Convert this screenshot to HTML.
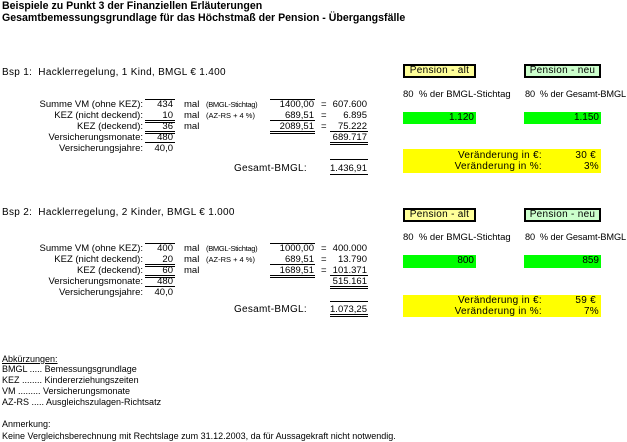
<!DOCTYPE html>
<html><head><meta charset="utf-8"><style>
body{margin:0;width:627px;height:442px;background:#fff;position:relative;overflow:hidden;font-family:"Liberation Sans",Arial,sans-serif;font-size:9.5px;color:#000}
.t{position:absolute;white-space:nowrap;line-height:11px;height:11px}
.r{text-align:right}
.b{font-weight:bold;font-size:10.6px}
.f{font-size:9px}
.ln{position:absolute;height:0;border-top:1px solid #000}
.dl{position:absolute;height:1px;border-top:1px solid #000;border-bottom:1px solid #000}
.box{position:absolute;border:2px solid #000;text-align:center;line-height:10px;height:10px;box-sizing:content-box;font-size:10px;letter-spacing:0.3px}
.g{position:absolute;background:#00ff00;text-align:right;line-height:12px;padding-right:2px;box-sizing:border-box;font-size:10px}
.y{position:absolute;background:#ffff00}
.bs{font-size:10px;letter-spacing:0.3px}
.yt{font-size:10px;letter-spacing:0.3px}
.gs{font-size:9.2px;letter-spacing:-0.1px}
</style></head><body>
<div class="t b" style="left:2px;top:1px">Beispiele zu Punkt 3 der Finanziellen Erläuterungen</div>
<div class="t b" style="left:2px;top:13px">Gesamtbemessungsgrundlage für das Höchstmaß der Pension - Übergangsfälle</div>

<div class="t bs" style="left:2px;top:67px">Bsp 1:&nbsp; Hacklerregelung, 1 Kind, BMGL € 1.400</div>
<div class="t r" style="left:0;width:143px;top:99px">Summe VM (ohne KEZ):</div>
<div class="t r" style="left:0;width:143px;top:110px">KEZ (nicht deckend):</div>
<div class="t r" style="left:0;width:143px;top:121px">KEZ (deckend):</div>
<div class="t r" style="left:0;width:143px;top:132px">Versicherungsmonate:</div>
<div class="t r" style="left:0;width:143px;top:143px">Versicherungsjahre:</div>
<div class="t r" style="left:145px;width:28px;top:99px">434</div>
<div class="t r" style="left:145px;width:28px;top:110px">10</div>
<div class="t r" style="left:145px;width:28px;top:121px">36</div>
<div class="t r" style="left:145px;width:28px;top:132px">480</div>
<div class="t r" style="left:145px;width:28px;top:143px">40,0</div>
<div class="ln" style="left:145px;width:30px;top:99px"></div>
<div class="dl" style="left:145px;width:30px;top:120px"></div>
<div class="dl" style="left:145px;width:30px;top:131px"></div>
<div class="ln" style="left:145px;width:30px;top:142px"></div>
<div class="t" style="left:184px;top:99px">mal</div>
<div class="t" style="left:184px;top:110px">mal</div>
<div class="t" style="left:184px;top:121px">mal</div>
<div class="t" style="left:206px;top:99px;font-size:7.5px;letter-spacing:-0.3px">(BMGL-Stichtag)</div>
<div class="t" style="left:206px;top:110px;font-size:7.5px">(AZ-RS + 4 %)</div>
<div class="t r" style="left:270px;width:44px;top:99px">1400,00</div>
<div class="t r" style="left:270px;width:44px;top:110px">689,51</div>
<div class="t r" style="left:270px;width:44px;top:121px">2089,51</div>
<div class="ln" style="left:270px;width:45px;top:99px"></div>
<div class="ln" style="left:270px;width:45px;top:120px"></div>
<div class="dl" style="left:270px;width:45px;top:131px"></div>
<div class="t" style="left:321px;top:99px">=</div>
<div class="t" style="left:321px;top:110px">=</div>
<div class="t" style="left:321px;top:121px">=</div>
<div class="t r" style="left:330px;width:37px;top:99px">607.600</div>
<div class="t r" style="left:330px;width:37px;top:110px">6.895</div>
<div class="t r" style="left:330px;width:37px;top:121px">75.222</div>
<div class="t r" style="left:330px;width:37px;top:132px">689.717</div>
<div class="ln" style="left:330px;width:38px;top:131px"></div>
<div class="dl" style="left:330px;width:38px;top:142px"></div>
<div class="t r yt" style="left:200px;width:107px;top:163px">Gesamt-BMGL:</div>
<div class="t r" style="left:330px;width:37px;top:163px">1.436,91</div>
<div class="ln" style="left:330px;width:38px;top:159px"></div>
<div class="ln" style="left:330px;width:38px;top:174px"></div>

<div class="box" style="left:403px;top:64px;width:69px;background:#ffff99">Pension - alt</div>
<div class="box" style="left:524px;top:64px;width:73px;background:#ccffcc">Pension - neu</div>
<div class="t" style="left:403px;top:89px">80&nbsp; % der BMGL-Stichtag</div>
<div class="t gs" style="left:525px;top:89px">80&nbsp; % der Gesamt-BMGL</div>
<div class="g" style="left:403px;top:112px;width:73px;height:12px">1.120</div>
<div class="g" style="left:524px;top:112px;width:77px;height:12px">1.150</div>
<div class="y" style="left:403px;top:149px;width:198px;height:24px"></div>
<div class="t r yt" style="left:403px;width:139px;top:150px">Veränderung in €:</div>
<div class="t r yt" style="left:403px;width:139px;top:161px">Veränderung in %:</div>
<div class="t r yt" style="left:540px;width:56px;top:150px">30 €</div>
<div class="t r yt" style="left:540px;width:59px;top:161px">3%</div>

<div class="t bs" style="left:2px;top:207px">Bsp 2:&nbsp; Hacklerregelung, 2 Kinder, BMGL € 1.000</div>
<div class="t r" style="left:0;width:143px;top:243px">Summe VM (ohne KEZ):</div>
<div class="t r" style="left:0;width:143px;top:254px">KEZ (nicht deckend):</div>
<div class="t r" style="left:0;width:143px;top:265px">KEZ (deckend):</div>
<div class="t r" style="left:0;width:143px;top:276px">Versicherungsmonate:</div>
<div class="t r" style="left:0;width:143px;top:287px">Versicherungsjahre:</div>
<div class="t r" style="left:145px;width:28px;top:243px">400</div>
<div class="t r" style="left:145px;width:28px;top:254px">20</div>
<div class="t r" style="left:145px;width:28px;top:265px">60</div>
<div class="t r" style="left:145px;width:28px;top:276px">480</div>
<div class="t r" style="left:145px;width:28px;top:287px">40,0</div>
<div class="ln" style="left:145px;width:30px;top:243px"></div>
<div class="dl" style="left:145px;width:30px;top:264px"></div>
<div class="dl" style="left:145px;width:30px;top:275px"></div>
<div class="ln" style="left:145px;width:30px;top:286px"></div>
<div class="t" style="left:184px;top:243px">mal</div>
<div class="t" style="left:184px;top:254px">mal</div>
<div class="t" style="left:184px;top:265px">mal</div>
<div class="t" style="left:206px;top:243px;font-size:7.5px;letter-spacing:-0.3px">(BMGL-Stichtag)</div>
<div class="t" style="left:206px;top:254px;font-size:7.5px">(AZ-RS + 4 %)</div>
<div class="t r" style="left:270px;width:44px;top:243px">1000,00</div>
<div class="t r" style="left:270px;width:44px;top:254px">689,51</div>
<div class="t r" style="left:270px;width:44px;top:265px">1689,51</div>
<div class="ln" style="left:270px;width:45px;top:243px"></div>
<div class="ln" style="left:270px;width:45px;top:264px"></div>
<div class="dl" style="left:270px;width:45px;top:275px"></div>
<div class="t" style="left:321px;top:243px">=</div>
<div class="t" style="left:321px;top:254px">=</div>
<div class="t" style="left:321px;top:265px">=</div>
<div class="t r" style="left:330px;width:37px;top:243px">400.000</div>
<div class="t r" style="left:330px;width:37px;top:254px">13.790</div>
<div class="t r" style="left:330px;width:37px;top:265px">101.371</div>
<div class="t r" style="left:330px;width:37px;top:276px">515.161</div>
<div class="ln" style="left:330px;width:38px;top:275px"></div>
<div class="dl" style="left:330px;width:38px;top:286px"></div>
<div class="t r yt" style="left:200px;width:107px;top:304px">Gesamt-BMGL:</div>
<div class="t r" style="left:330px;width:37px;top:304px">1.073,25</div>
<div class="ln" style="left:330px;width:38px;top:301px"></div>
<div class="dl" style="left:330px;width:38px;top:314px"></div>

<div class="box" style="left:403px;top:208px;width:69px;background:#ffff99">Pension - alt</div>
<div class="box" style="left:524px;top:208px;width:73px;background:#ccffcc">Pension - neu</div>
<div class="t" style="left:403px;top:232px">80&nbsp; % der BMGL-Stichtag</div>
<div class="t gs" style="left:525px;top:232px">80&nbsp; % der Gesamt-BMGL</div>
<div class="g" style="left:403px;top:255px;width:73px;height:13px">800</div>
<div class="g" style="left:524px;top:255px;width:77px;height:13px">859</div>
<div class="y" style="left:403px;top:295px;width:198px;height:22px"></div>
<div class="t r yt" style="left:403px;width:139px;top:295px">Veränderung in €:</div>
<div class="t r yt" style="left:403px;width:139px;top:306px">Veränderung in %:</div>
<div class="t r yt" style="left:540px;width:56px;top:295px">59 €</div>
<div class="t r yt" style="left:540px;width:59px;top:306px">7%</div>

<div class="t f" style="left:2px;top:354px;text-decoration:underline">Abkürzungen:</div>
<div class="t f" style="left:2px;top:364px">BMGL ..... Bemessungsgrundlage</div>
<div class="t f" style="left:2px;top:375px">KEZ ........ Kindererziehungszeiten</div>
<div class="t f" style="left:2px;top:386px">VM ......... Versicherungsmonate</div>
<div class="t f" style="left:2px;top:397px">AZ-RS ..... Ausgleichszulagen-Richtsatz</div>
<div class="t f" style="left:2px;top:419px">Anmerkung:</div>
<div class="t f" style="left:2px;top:431px">Keine Vergleichsberechnung mit Rechtslage zum 31.12.2003, da für Aussagekraft nicht notwendig.</div>
</body></html>
